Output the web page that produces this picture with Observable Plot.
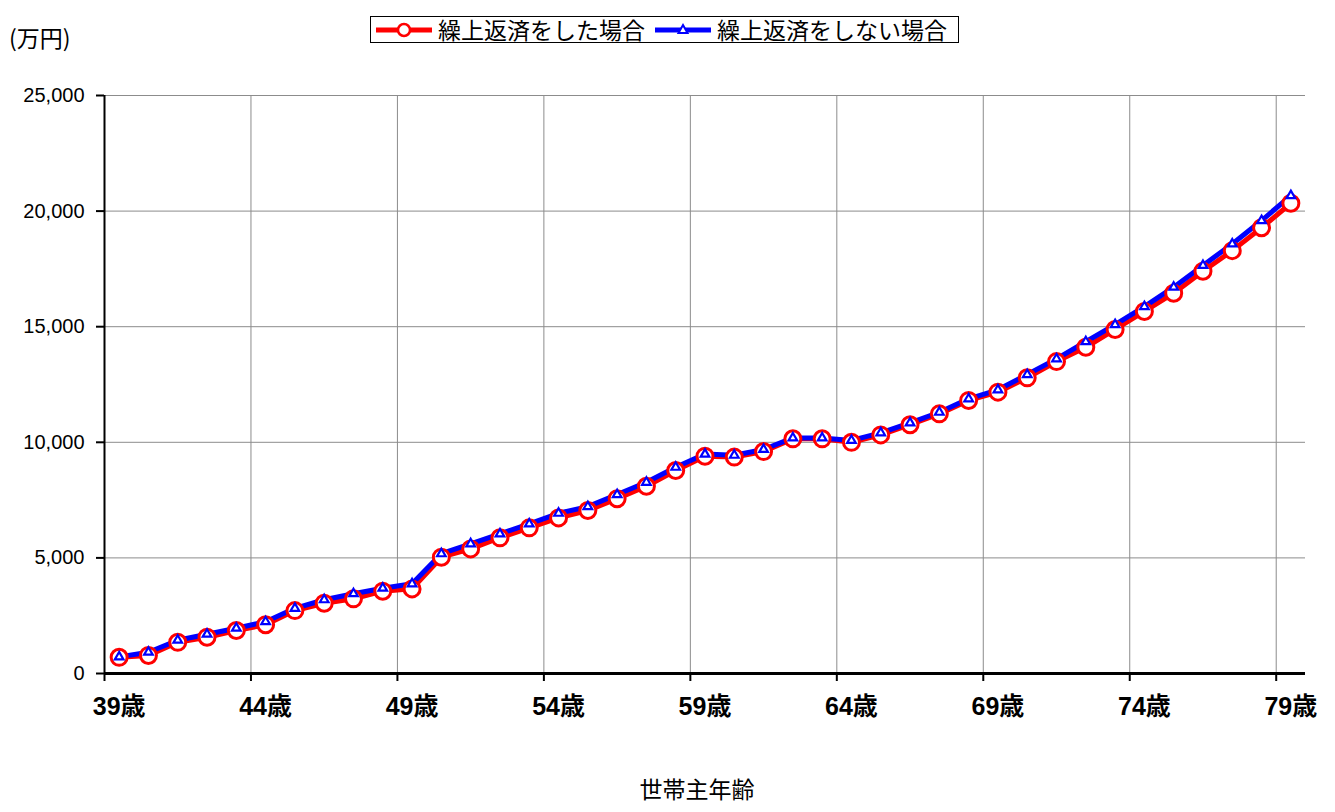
<!DOCTYPE html>
<html>
<head>
<meta charset="utf-8">
<script src="https://cdn.jsdelivr.net/npm/d3@7"></script>
<script src="https://cdn.jsdelivr.net/npm/@observablehq/plot@0.6"></script>
<style>
  body { margin: 0; background: white; font-family: 'Liberation Sans', 'Noto Sans CJK JP', sans-serif; }
  #wrap { width: 1335px; height: 812px; position: relative; overflow: hidden; }
  #header { position: relative; height: 60px; }
  #unit { position: absolute; left: 9px; top: 26px; font-size: 23px; font-family: 'Noto Sans CJK JP', sans-serif; line-height: 1; }
  #legend { position: absolute; left: 370px; top: 16px; width: 589px; height: 27px; border: 1px solid black; box-sizing: border-box; display: flex; align-items: center; font-family: 'Noto Sans CJK JP', sans-serif; font-size: 23px; line-height: 1; white-space: nowrap; }
  #legend .item { display: flex; align-items: center; }
  #legend svg { display: block; }
</style>
</head>
<body>
<div id="wrap">
  <div id="header">
    <div id="unit">(万円)</div>
    <div id="legend"></div>
  </div>
  <div id="chart"></div>
</div>
<script>
// ---- data ----
const ages = [39,40,41,42,43,44,45,46,47,48,49,50,51,52,53,54,55,56,57,58,59,60,61,62,63,64,65,66,67,68,69,70,71,72,73,74,75,76,77,78,79];
const withPrepay = [700,780,1350,1570,1860,2110,2720,3040,3230,3560,3660,5030,5390,5870,6300,6730,7050,7560,8100,8780,9400,9360,9600,10150,10150,10000,10320,10760,11230,11810,12170,12790,13490,14110,14880,15660,16450,17400,18290,19280,20340];
const withoutPrepay = [720,920,1440,1700,1960,2240,2820,3190,3450,3690,3880,5180,5610,6040,6470,6930,7220,7740,8270,8920,9490,9440,9690,10190,10190,10080,10410,10840,11300,11880,12270,12930,13610,14350,15090,15870,16710,17650,18580,19590,20670];
const seriesNames = ["繰上返済をした場合", "繰上返済をしない場合"];
const yTicks = [0, 5000, 10000, 15000, 20000, 25000];
const labelAges = [39, 44, 49, 54, 59, 64, 69, 74, 79];
const tickBoundaries = [38.5, 43.5, 48.5, 53.5, 58.5, 63.5, 68.5, 73.5, 78.5];
const xTitle = "世帯主年齢";

const rowsA = ages.map((a, i) => ({age: a, value: withPrepay[i]}));
const rowsB = ages.map((a, i) => ({age: a, value: withoutPrepay[i]}));

// ---- legend ----
const legend = document.getElementById("legend");
function legendItem(color, symbol, text, lead) {
  const item = document.createElement("div");
  item.className = "item";
  item.style.marginLeft = lead + "px";
  const ns = "http://www.w3.org/2000/svg";
  const svg = document.createElementNS(ns, "svg");
  svg.setAttribute("width", 60); svg.setAttribute("height", 20);
  const ln = document.createElementNS(ns, "line");
  ln.setAttribute("x1", 2); ln.setAttribute("x2", 58); ln.setAttribute("y1", 10); ln.setAttribute("y2", 10);
  ln.setAttribute("stroke", color); ln.setAttribute("stroke-width", 5);
  svg.appendChild(ln);
  if (symbol === "circle") {
    const c = document.createElementNS(ns, "circle");
    c.setAttribute("cx", 30); c.setAttribute("cy", 10); c.setAttribute("r", 6);
    c.setAttribute("fill", "white"); c.setAttribute("stroke", color); c.setAttribute("stroke-width", 2.5);
    svg.appendChild(c);
  } else {
    const p = document.createElementNS(ns, "path");
    p.setAttribute("d", "M30,5 L34.5,13 L25.5,13 Z");
    p.setAttribute("fill", "white"); p.setAttribute("stroke", color); p.setAttribute("stroke-width", 2);
    svg.appendChild(p);
  }
  item.appendChild(svg);
  const t = document.createElement("span");
  t.textContent = text;
  t.style.marginLeft = "4px";
  item.appendChild(t);
  legend.appendChild(item);
}
legendItem("red", "circle", seriesNames[0], 3);
legendItem("blue", "triangle", seriesNames[1], 8);

// ---- chart ----
const chart = Plot.plot({
  width: 1335,
  height: 752,
  marginTop: 35,
  marginBottom: 139,
  marginLeft: 104,
  marginRight: 30,
  style: {fontFamily: "'Liberation Sans', 'Noto Sans CJK JP', sans-serif", fontSize: "20px", color: "black", background: "white", overflow: "visible"},
  x: {type: "linear", domain: [38.5, 79.5]},
  y: {domain: [0, 25000]},
  marks: [
    Plot.gridY(yTicks.slice(1), {stroke: "#8c8c8c", strokeOpacity: 1, strokeWidth: 1}),
    Plot.gridX(tickBoundaries.slice(1), {stroke: "#8c8c8c", strokeOpacity: 1, strokeWidth: 1}),
    Plot.axisY(yTicks, {tickSize: 8, tickPadding: 12, tickFormat: d3.format(","), strokeWidth: 2, label: null, fontSize: 20}),
    Plot.axisX(tickBoundaries, {tickSize: 8, tickFormat: () => "", strokeWidth: 2, label: null}),
    Plot.axisX(labelAges, {tickSize: 0, tickPadding: 24, tickFormat: d => d + "歳", fontSize: 25, fontWeight: "bold", label: null}),
    Plot.ruleX([38.5], {stroke: "black", strokeWidth: 2}),
    Plot.ruleY([0], {stroke: "black", strokeWidth: 3}),
    Plot.line(rowsA, {x: "age", y: "value", stroke: "red", strokeWidth: 5}),
    Plot.line(rowsB, {x: "age", y: "value", stroke: "blue", strokeWidth: 5}),
    Plot.dot(rowsA, {x: "age", y: "value", r: 8, fill: "white", stroke: "red", strokeWidth: 3}),
    Plot.dot(rowsB, {x: "age", y: "value", r: 3.2, symbol: "triangle", fill: "white", stroke: "blue", strokeWidth: 2.2}),
    Plot.text([xTitle], {frameAnchor: "bottom", dy: 124, dx: -8, fontSize: 23, fontFamily: "'Noto Sans CJK JP', sans-serif"})
  ]
});
document.getElementById("chart").appendChild(chart);
</script>
</body>
</html>
